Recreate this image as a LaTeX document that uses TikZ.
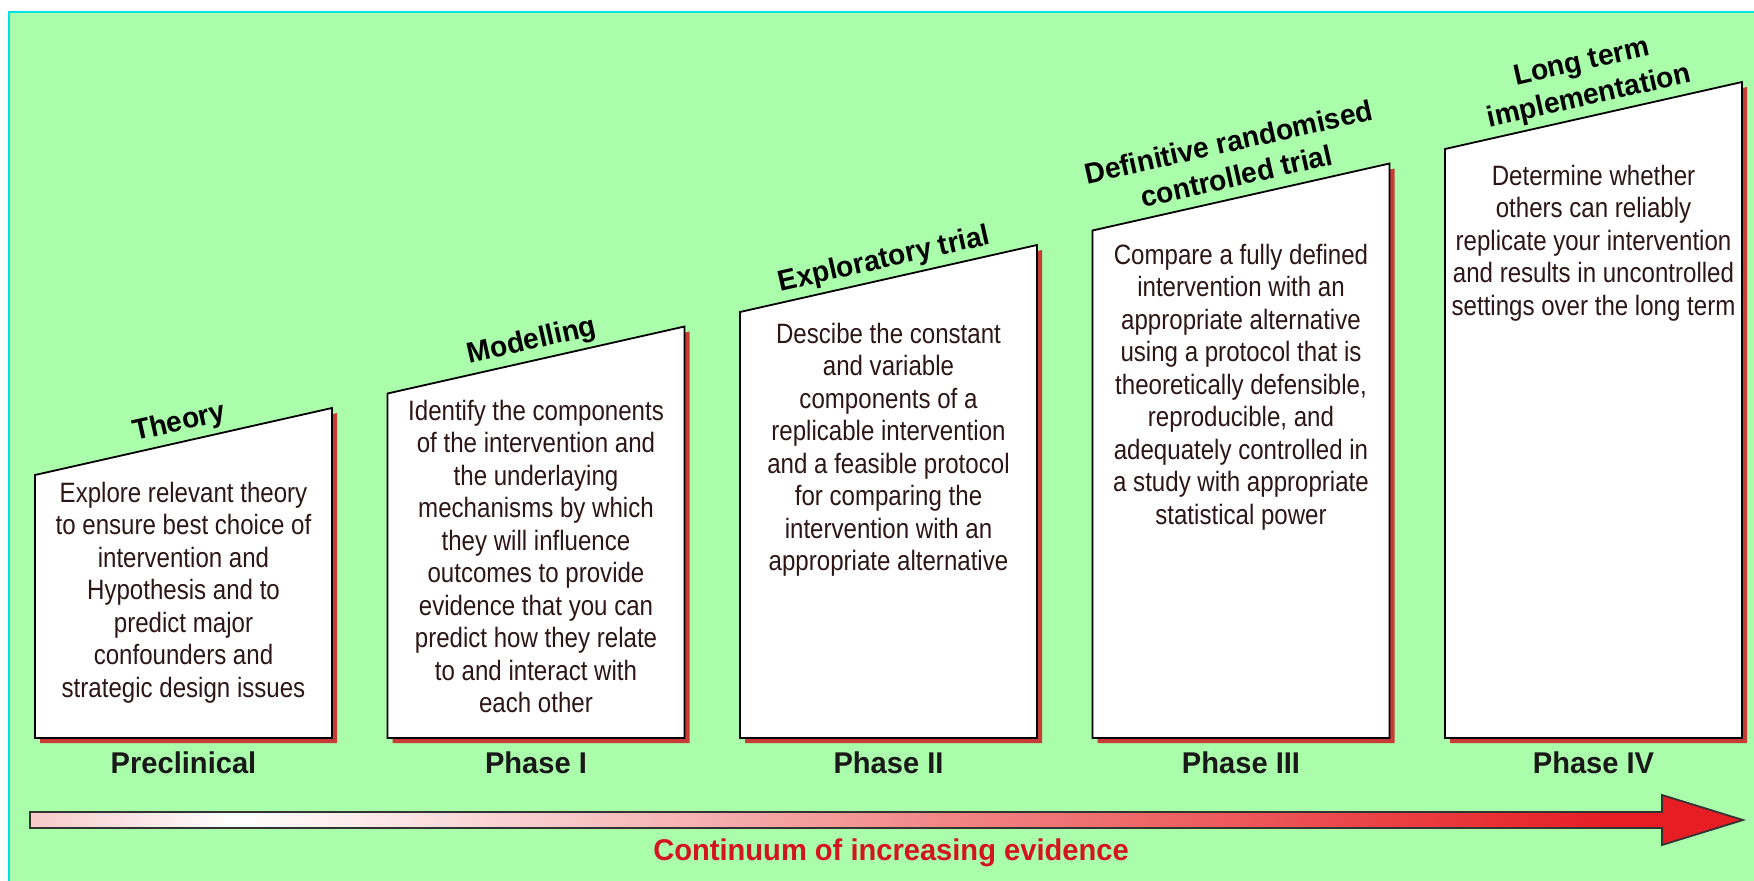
\documentclass[tikz,border=0pt]{standalone}
\usepackage{fontspec}
\setmainfont{Liberation Sans}
\newfontfamily\bodyfont[FakeStretch=0.86]{Liberation Sans}
\newfontfamily\headfont[FakeStretch=0.97]{Liberation Sans}
\definecolor{bggreen}{RGB}{170,253,170}
\definecolor{edgecyan}{RGB}{0,225,225}
\definecolor{shadowred}{RGB}{200,60,55}
\definecolor{bodytext}{RGB}{45,22,22}
\definecolor{arrowpink}{RGB}{248,200,200}
\definecolor{arrowsalmon}{RGB}{242,138,138}
\definecolor{arrowred}{RGB}{230,30,36}
\definecolor{evidred}{RGB}{212,20,30}
\pgfdeclarehorizontalshading{evidence}{100bp}{color(0bp)=(arrowpink); color(25bp)=(arrowpink); color(31bp)=(white); color(51bp)=(arrowsalmon); color(71bp)=(arrowred); color(100bp)=(arrowred)}

\begin{document}
\begin{tikzpicture}[x=1pt,y=-1pt]
\tikzset{stage/.style = {fill=white,draw=black,line width=1.8pt},
  shadow/.style = {fill=shadowred},
  title/.style = {font=\headfont\bfseries\fontsize{29}{35}\selectfont, align=center, rotate=12.7, anchor=south, inner xsep=0pt, inner ysep=11pt, text depth=0pt},
  body/.style = {font=\bodyfont\fontsize{28}{32.5}\selectfont, text=bodytext, align=center, anchor=north, inner sep=0pt},
  phase/.style = {font=\headfont\bfseries\fontsize{30}{36}\selectfont, text=black!90, anchor=base}}
\useasboundingbox (0,0) rectangle (1754,881);
\fill[bggreen] (9,12) rectangle (1754,881);
\draw[edgecyan,line width=2pt] (9,881) -- (9,12) -- (1754,12);
% the five stages
\foreach \i in {1,...,5} {
  \pgfmathsetmacro\lx{35+352.5*(\i-1)}
  \pgfmathsetmacro\rx{\lx+297}
  \pgfmathsetmacro\ty{408-81.5*(\i-1)}
  \coordinate (tl\i) at (\lx,\ty+67);
  \coordinate (tr\i) at (\rx,\ty);
  \coordinate (br\i) at (\rx,738);
  \coordinate (bl\i) at (\lx,738);
  \coordinate (top\i) at (\lx+148.5,\ty+33.5);
  \fill[shadow] (\lx+5,\ty+72) -- (\rx+5,\ty+5) -- (\rx+5,743) -- (\lx+5,743) -- cycle;
  \draw[stage] (tl\i) -- (tr\i) -- (br\i) -- (bl\i) -- cycle;
}
\node[title] (t1) at (top1) {Theory};
\node[title] (t2) at (top2) {Modelling};
\node[title] (t3) at (top3) {Exploratory trial};
\node[title] (t4) at (top4) {Definitive randomised\\controlled trial};
\node[title] (t5) at (top5) {Long term\\implementation};
\node[body] (d1) at (183.5,482) {Explore relevant theory\\to ensure best choice of\\intervention and\\Hypothesis and to\\predict major\\confounders and\\strategic design issues};
\node[body] (d2) at (536,400) {Identify the components\\of the intervention and\\the underlaying\\mechanisms by which\\they will influence\\outcomes to provide\\evidence that you can\\predict how they relate\\to and interact with\\each other};
\node[body] (d3) at (888.5,323) {Descibe the constant\\and variable\\components of a\\replicable intervention\\and a feasible protocol\\for comparing the\\intervention with an\\appropriate alternative};
\node[body] (d4) at (1241,244) {Compare a fully defined\\intervention with an\\appropriate alternative\\using a protocol that is\\theoretically defensible,\\reproducible, and\\adequately controlled in\\a study with appropriate\\statistical power};
\node[body] (d5) at (1593.5,165) {Determine whether\\others can reliably\\replicate your intervention\\and results in uncontrolled\\settings over the long term};
\node[phase] (p1) at (183.5,773) {Preclinical};
\node[phase] (p2) at (536,773) {Phase I};
\node[phase] (p3) at (888.5,773) {Phase II};
\node[phase] (p4) at (1241,773) {Phase III};
\node[phase] (p5) at (1593.5,773) {Phase IV};
% evidence arrow
\draw[draw=black!80,line width=1.8pt,shading=evidence] (30,812) -- (1662,812) -- (1662,795) -- (1743,820) -- (1662,845) -- (1662,828) -- (30,828) -- cycle;
\node[font=\headfont\bfseries\fontsize{30}{36}\selectfont, text=evidred, anchor=base] (ev) at (891,860) {Continuum of increasing evidence};
\end{tikzpicture}
\end{document}
